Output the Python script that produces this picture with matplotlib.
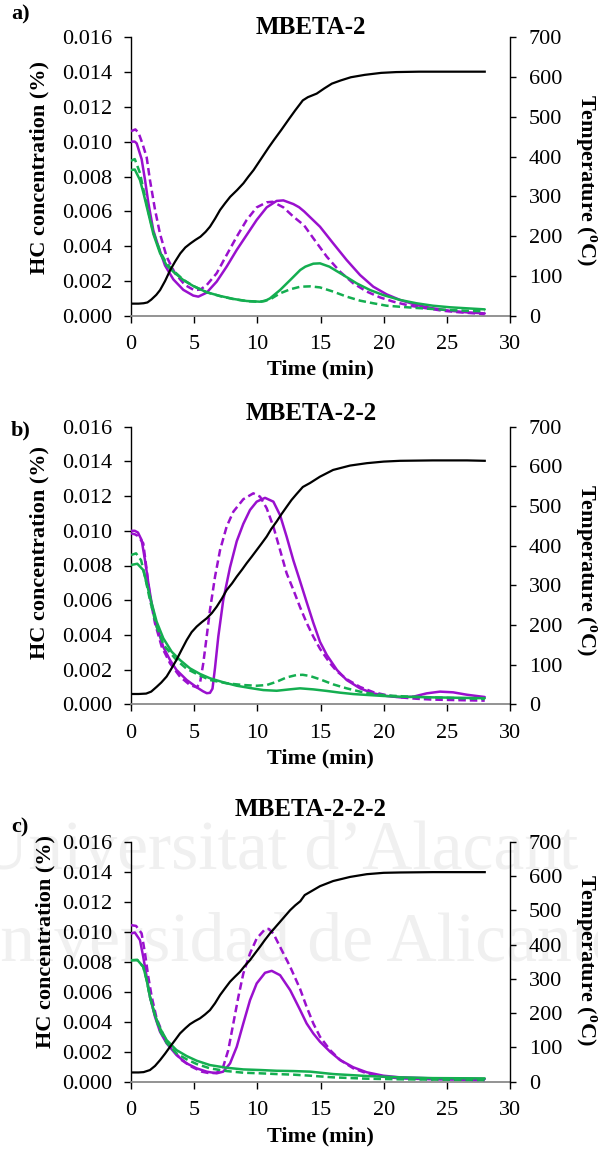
import matplotlib
matplotlib.use("Agg")
import matplotlib.pyplot as plt
from matplotlib.ticker import FormatStrFormatter

plt.rcParams['font.family'] = ['Liberation Serif', 'DejaVu Serif']
plt.rcParams['mathtext.fontset'] = 'custom'
plt.rcParams['mathtext.rm'] = 'Liberation Serif'
plt.rcParams['mathtext.bf'] = 'Liberation Serif:bold'

# ---------------- data: panel a (MBETA-2) ----------------
a_t_temp = [0, 0.6, 1.0, 1.3, 1.6, 2.0, 2.3, 2.7, 3.1, 3.5, 3.9, 4.3, 4.7, 5.1, 5.5,
            5.9, 6.25, 6.65, 7.05, 7.45, 7.85, 8.4, 8.9, 9.3, 9.7, 10.1, 10.5, 10.9,
            11.3, 11.6, 11.9, 12.5, 13.0, 13.6, 14.0, 14.7, 15.3, 15.9, 16.6, 17.4,
            18.5, 19.8, 21.0, 22.8, 25.0, 28.0]
a_temp = [31, 31, 32, 34, 41, 53, 65, 88, 115, 137, 157, 172, 182, 191, 199, 211, 224,
          244, 266, 283, 299, 316, 333, 350, 366, 385, 404, 423, 441, 454, 467, 494,
          516, 541, 549, 558, 571, 583, 591, 599, 605, 610, 612, 613, 613, 613]

a_t_ps = [0, 0.3, 0.45, 0.84, 1.11, 1.37, 1.77, 2.16, 2.69, 3.35, 4.14, 4.93, 5.33,
          5.99, 6.78, 7.57, 8.37, 9.16, 9.95, 10.74, 11.53, 12.06, 12.85, 13.3, 13.7,
          14.96, 16.0, 17.07, 18.13, 19.18, 20.24, 21.3, 22.6, 23.9, 25.25, 26.6, 28.0]
a_ps = [0.0100, 0.0100, 0.0099, 0.0090, 0.0078, 0.0065, 0.0049, 0.0040, 0.0029, 0.0021,
        0.0015, 0.00117, 0.00111, 0.00134, 0.00197, 0.00283, 0.00379, 0.00465, 0.00551,
        0.00623, 0.0066, 0.00663, 0.00642, 0.00624, 0.0060, 0.00512, 0.00417, 0.00321,
        0.00235, 0.00168, 0.00124, 0.00092, 0.00063, 0.00044, 0.0003, 0.00021, 0.00015]

a_t_pd = [0, 0.35, 0.6, 0.9, 1.24, 1.5, 1.9, 2.3, 2.82, 3.48, 4.27, 5.0, 5.5, 6.0, 6.78,
          7.57, 8.37, 9.16, 9.95, 10.74, 11.2, 12.06, 12.85, 13.7, 14.43, 15.5, 16.55,
          17.6, 18.66, 19.7, 20.77, 22.08, 23.4, 24.7, 26.04, 28.0]
a_pd = [0.0106, 0.0107, 0.0105, 0.0099, 0.0091, 0.0078, 0.0061, 0.0047, 0.0034, 0.00245,
        0.00178, 0.00148, 0.00152, 0.00178, 0.00245, 0.0035, 0.00455, 0.00551, 0.00623,
        0.00652, 0.00655, 0.00623, 0.0057, 0.0052, 0.00446, 0.0034, 0.00254, 0.00187,
        0.0014, 0.00107, 0.00082, 0.00059, 0.00044, 0.0003, 0.00021, 0.00011]

a_t_gs = [0, 0.3, 0.71, 0.97, 1.37, 1.77, 2.3, 2.82, 3.35, 4.14, 4.93, 6.0, 7.05, 8.1,
          9.16, 10.21, 10.6, 11.0, 11.8, 12.6, 13.4, 13.8, 14.43, 14.96, 15.7, 16.8,
          17.87, 18.92, 19.97, 21.3, 22.6, 23.9, 25.25, 26.6, 28.0]
a_gs = [0.00837, 0.0084, 0.0078, 0.0071, 0.0059, 0.0047, 0.0036, 0.0029, 0.00254,
        0.00206, 0.00172, 0.00136, 0.00115, 0.00098, 0.00086, 0.00082, 0.00086, 0.00101,
        0.00149, 0.00206, 0.00264, 0.00283, 0.0030, 0.00302, 0.00283, 0.00235, 0.00187,
        0.00149, 0.0012, 0.00092, 0.00073, 0.00059, 0.0005, 0.00044, 0.00038]

a_t_gd = [0, 0.3, 0.71, 0.97, 1.37, 1.77, 2.3, 2.82, 3.35, 4.14, 4.93, 6.0, 7.05, 8.1,
          9.16, 10.21, 11.0, 11.8, 12.6, 13.4, 14.17, 14.96, 16.0, 17.07, 18.13, 19.18,
          20.24, 21.3, 22.6, 23.9, 25.25, 26.6, 28.0]
a_gd = [0.0089, 0.0090, 0.0082, 0.0073, 0.0060, 0.0048, 0.0037, 0.0030, 0.0026, 0.00208,
        0.00172, 0.00136, 0.00114, 0.00097, 0.00085, 0.00081, 0.00095, 0.0013, 0.00153,
        0.00168, 0.0017, 0.00164, 0.0014, 0.00111, 0.00088, 0.00073, 0.00059, 0.00053,
        0.00046, 0.0004, 0.00034, 0.0003, 0.00027]

# ---------------- data: panel b (MBETA-2-2) ----------------
b_t_temp = [0, 0.6, 1.2, 1.6, 2.03, 2.4, 2.82, 3.2, 3.6, 4.0, 4.41, 4.8, 5.2, 5.6, 6.0,
            6.4, 6.78, 7.2, 7.57, 8.0, 8.37, 8.8, 9.16, 9.55, 9.95, 10.35, 10.74, 11.1,
            11.53, 11.9, 12.32, 12.7, 13.1, 13.6, 14.17, 14.96, 16.0, 17.34, 18.66, 20.0,
            21.3, 23.9, 26.6, 28.0]
b_temp = [26, 26, 27, 32, 44, 55, 70, 90, 112, 137, 162, 182, 196, 207, 217, 230, 246,
          267, 288, 305, 322, 340, 356, 372, 389, 406, 423, 442, 461, 479, 498, 515, 530,
          548, 558, 574, 591, 602, 608, 612, 614, 615, 615, 614]

b_t_ps = [0, 0.3, 0.55, 0.84, 1.11, 1.37, 1.64, 2.03, 2.56, 3.09, 3.6, 4.41, 5.2, 5.7,
          6.0, 6.25, 6.45, 6.65, 6.91, 7.3, 7.84, 8.37, 8.89, 9.42, 9.95, 10.61, 11.27,
          11.8, 12.32, 12.85, 13.38, 13.9, 14.43, 14.96, 15.5, 16.3, 17.07, 18.13, 19.18,
          20.24, 21.3, 22.35, 23.4, 24.46, 25.5, 26.6, 28.0]
b_ps = [0.0100, 0.0100, 0.0099, 0.00947, 0.0083, 0.0070, 0.0058, 0.0045, 0.0033, 0.00255,
        0.00198, 0.0014, 0.00098, 0.00075, 0.00064, 0.00066, 0.0009, 0.0021, 0.0039,
        0.0060, 0.0079, 0.0094, 0.0104, 0.0112, 0.01168, 0.0119, 0.01168, 0.0109, 0.00966,
        0.0083, 0.0071, 0.0059, 0.0047, 0.0036, 0.00284, 0.00198, 0.0014, 0.00092,
        0.00063, 0.00048, 0.0004, 0.00044, 0.00063, 0.00073, 0.00069, 0.00055, 0.00042]

b_t_pd = [0, 0.3, 0.55, 0.97, 1.24, 1.5, 1.9, 2.43, 3.09, 3.88, 4.67, 5.2, 5.46, 5.72,
          5.99, 6.25, 6.65, 7.05, 7.57, 8.1, 8.89, 9.68, 10.21, 10.74, 11.27, 11.8, 12.32,
          12.85, 13.38, 13.9, 14.43, 14.96, 15.76, 16.3, 17.07, 18.13, 19.18, 20.24, 21.3,
          22.6, 23.9, 25.25, 26.6, 28.0]
b_pd = [0.00985, 0.0098, 0.0097, 0.00928, 0.00774, 0.0062, 0.00467, 0.00332, 0.00236,
        0.00159, 0.00111, 0.00098, 0.00121, 0.00236, 0.0039, 0.00543, 0.00735, 0.00889,
        0.01024, 0.0111, 0.01182, 0.01216, 0.01197, 0.0113, 0.01024, 0.00889, 0.00755,
        0.0066, 0.0056, 0.0047, 0.0039, 0.0032, 0.00236, 0.0019, 0.00145, 0.001, 0.0007,
        0.00052, 0.0004, 0.00032, 0.00027, 0.00025, 0.00023, 0.00021]

b_t_gs = [0, 0.5, 0.97, 1.24, 1.64, 2.03, 2.56, 3.22, 3.88, 4.67, 5.46, 6.25, 7.3, 8.37,
          9.42, 10.47, 11.53, 12.55, 13.38, 14.43, 15.5, 16.55, 17.6, 18.66, 19.97, 21.3,
          23.9, 28.0]
b_gs = [0.00803, 0.0081, 0.00774, 0.00697, 0.00582, 0.00476, 0.0038, 0.00303, 0.00255,
        0.00207, 0.00175, 0.0015, 0.00127, 0.00107, 0.00094, 0.00082, 0.00078, 0.00086,
        0.00092, 0.00086, 0.00077, 0.00067, 0.00059, 0.00054, 0.00048, 0.00044, 0.0004,
        0.00035]

b_t_gd = [0, 0.4, 0.8, 1.11, 1.5, 2.03, 2.6, 3.6, 4.4, 5.2, 6.25, 7.57, 8.89, 9.95, 10.74,
          11.53, 12.32, 13.11, 13.6, 14.17, 14.96, 16.0, 17.07, 18.13, 19.18, 20.5, 22.08,
          23.9, 26.0, 28.0]
b_gd = [0.0086, 0.0087, 0.0083, 0.00735, 0.00601, 0.00447, 0.0034, 0.00255, 0.00205,
        0.00175, 0.0014, 0.00121, 0.00111, 0.00107, 0.00111, 0.0013, 0.00155, 0.00169,
        0.0017, 0.00163, 0.00144, 0.00115, 0.00092, 0.00073, 0.00059, 0.0005, 0.00044,
        0.0004, 0.00035, 0.00031]

# ---------------- data: panel c (MBETA-2-2-2) ----------------
c_t_temp = [0, 0.6, 1.0, 1.5, 1.9, 2.3, 2.7, 3.09, 3.5, 3.88, 4.3, 4.67, 5.06, 5.46, 5.85,
            6.25, 6.65, 7.05, 7.45, 7.84, 8.24, 8.63, 9.0, 9.42, 9.8, 10.21, 10.6, 11.0,
            11.4, 11.8, 12.2, 12.6, 13.0, 13.4, 13.75, 14.17, 14.96, 16.0, 17.34, 18.66,
            20.0, 21.3, 23.9, 28.0]
c_temp = [27, 27, 28, 34, 46, 63, 82, 102, 122, 141, 156, 168, 177, 185, 196, 209, 229,
          253, 273, 292, 307, 321, 338, 355, 374, 394, 414, 433, 450, 467, 484, 501, 515,
          527, 545, 554, 571, 586, 598, 606, 610, 611, 612, 612]

c_t_ps = [0, 0.3, 0.71, 0.97, 1.24, 1.5, 1.9, 2.3, 2.82, 3.6, 4.41, 5.2, 6.0, 6.78, 7.3,
          7.84, 8.37, 8.89, 9.42, 9.95, 10.61, 11.14, 11.8, 12.6, 13.38, 13.9, 14.43,
          14.96, 15.76, 16.55, 17.6, 18.66, 19.97, 21.3, 23.9, 28.0]
c_ps = [0.00989, 0.00996, 0.00945, 0.00833, 0.0070, 0.00567, 0.00433, 0.00333, 0.00256,
        0.00178, 0.00122, 0.00089, 0.00067, 0.00056, 0.00067, 0.00122, 0.00233, 0.00389,
        0.00544, 0.00656, 0.00727, 0.0074, 0.00711, 0.00611, 0.0048, 0.00389, 0.00322,
        0.00267, 0.002, 0.00145, 0.00096, 0.00063, 0.0004, 0.00029, 0.00022, 0.00018]

c_t_pd = [0, 0.4, 0.84, 1.11, 1.37, 1.64, 2.03, 2.56, 3.22, 4.01, 4.8, 5.6, 6.25, 6.78,
          7.3, 7.7, 8.1, 8.5, 8.89, 9.42, 9.95, 10.61, 10.9, 11.27, 11.8, 12.6, 13.38,
          13.9, 14.43, 14.96, 15.76, 16.55, 17.6, 18.66, 19.97, 21.3, 23.9, 28.0]
c_pd = [0.01045, 0.0104, 0.0099, 0.00856, 0.0070, 0.00567, 0.00422, 0.00311, 0.00222,
        0.00144, 0.001, 0.00067, 0.00056, 0.0006, 0.001, 0.00211, 0.00389, 0.00567,
        0.00722, 0.00856, 0.00956, 0.01018, 0.0102, 0.00989, 0.009, 0.00767, 0.0062,
        0.005, 0.00389, 0.003, 0.00211, 0.00145, 0.00089, 0.00056, 0.00033, 0.00022,
        0.00016, 0.00011]

c_t_gs = [0, 0.5, 0.97, 1.24, 1.5, 1.9, 2.3, 2.82, 3.6, 4.41, 5.2, 6.25, 7.57, 8.89,
          10.21, 11.53, 12.85, 14.2, 16.0, 18.66, 21.3, 23.9, 28.0]
c_gs = [0.00811, 0.00813, 0.00767, 0.00678, 0.00567, 0.00444, 0.00356, 0.00278, 0.00211,
        0.00171, 0.0014, 0.00111, 0.00093, 0.00082, 0.00078, 0.00073, 0.00071, 0.00067,
        0.00051, 0.00038, 0.00029, 0.00024, 0.00022]

c_t_gd = [0, 0.5, 0.97, 1.24, 1.5, 1.9, 2.3, 2.82, 3.6, 4.41, 5.2, 6.25, 7.57, 8.89,
          10.21, 11.53, 12.85, 14.2, 16.0, 18.66, 21.3, 28.0]
c_gd = [0.0081, 0.00812, 0.00767, 0.00678, 0.00567, 0.0044, 0.0034, 0.0026, 0.00189,
        0.00149, 0.00118, 0.00089, 0.00071, 0.0006, 0.00056, 0.00051, 0.00047, 0.0004,
        0.00029, 0.0002, 0.00016, 0.00011]

titles = ["MBETA-2", "MBETA-2-2", "MBETA-2-2-2"]
tags = ["a)", "b)", "c)"]
conc_ticks = [0.000, 0.002, 0.004, 0.006, 0.008, 0.010, 0.012, 0.014, 0.016]
temp_ticks = [0, 100, 200, 300, 400, 500, 600, 700]
time_ticks = [0, 5, 10, 15, 20, 25, 30]

PURPLE = '#9A10CE'
GREEN = '#14AE50'
W, H = 598, 1151
fig = plt.figure(figsize=(W / 100, H / 100), dpi=100)


def fx(px):
    return px / W


def fy(py):
    return 1 - py / H


# faint background lettering behind the lowest panel
for txt, x0, yb in [("Universitat d\u2019Alacant", -22, 869),
                    ("Universidad de Alicante", -50, 961)]:
    fig.text(fx(x0), fy(yb), txt, fontsize=50, color='#f0f0f0', ha='left',
             va='baseline', zorder=-5)

# panel geometry in pixels: left, top, right, bottom and text anchors
panels = [
    dict(box=(131, 37, 510, 316), title_y=27, tag_y=14, ylab_x=39, ylab_y=167,
         rlab_y=180, xlab_y=369),
    dict(box=(131, 426.7, 510, 704.3), title_y=413, tag_y=430, ylab_x=39, ylab_y=552,
         rlab_y=570, xlab_y=758),
    dict(box=(131, 842, 510, 1081.7), title_y=809, tag_y=827, ylab_x=45, ylab_y=942,
         rlab_y=960, xlab_y=1136),
]

data = [
    (a_t_temp, a_temp, [(a_t_ps, a_ps, PURPLE, '-'), (a_t_pd, a_pd, PURPLE, '--'),
                        (a_t_gs, a_gs, GREEN, '-'), (a_t_gd, a_gd, GREEN, '--')]),
    (b_t_temp, b_temp, [(b_t_ps, b_ps, PURPLE, '-'), (b_t_pd, b_pd, PURPLE, '--'),
                        (b_t_gs, b_gs, GREEN, '-'), (b_t_gd, b_gd, GREEN, '--')]),
    (c_t_temp, c_temp, [(c_t_ps, c_ps, PURPLE, '-'), (c_t_pd, c_pd, PURPLE, '--'),
                        (c_t_gs, c_gs, GREEN, '-'), (c_t_gd, c_gd, GREEN, '--')]),
]

TICK_FS = 16
LAB_FS = 16
LW = 1.8
DASH = (0, (3.0, 1.6))

for geo, (t_temp, temp, series), title, tag in zip(panels, data, titles, tags):
    l, t, r, b = geo['box']
    ax = fig.add_axes([fx(l), fy(b), fx(r) - fx(l), (b - t) / H])
    ax.patch.set_facecolor('none')
    ax2 = ax.twinx()

    for ts, vs, col, ls in series:
        ax.plot(ts, vs, color=col, lw=LW, linestyle=DASH if ls == '--' else '-',
                solid_capstyle='round', solid_joinstyle='round', zorder=3)
    ax2.plot(t_temp, temp, color='black', lw=1.6, solid_joinstyle='round', zorder=3)

    ax.set_xlim(0, 30)
    ax.set_ylim(0, 0.016)
    ax2.set_ylim(0, 700)
    ax.set_xticks(time_ticks)
    ax.set_yticks(conc_ticks)
    ax2.set_yticks(temp_ticks)
    ax.yaxis.set_major_formatter(FormatStrFormatter('%.3f'))

    for a in (ax, ax2):
        a.spines['top'].set_visible(False)
    ax.spines['left'].set_color('black')
    ax.spines['left'].set_linewidth(1.0)
    ax.spines['right'].set_visible(False)
    ax.spines['bottom'].set_color('#8a8a8a')
    ax.spines['bottom'].set_linewidth(1.3)
    ax2.spines['left'].set_visible(False)
    ax2.spines['bottom'].set_visible(False)
    ax2.spines['right'].set_color('black')
    ax2.spines['right'].set_linewidth(1.0)

    ax.tick_params(axis='y', direction='out', length=5, width=1.0, pad=8.5,
                   labelsize=TICK_FS, colors='black')
    ax.tick_params(axis='x', direction='out', length=5, width=1.0, pad=9,
                   labelsize=TICK_FS, colors='black')
    ax2.tick_params(axis='y', direction='out', length=4, width=1.0, pad=9.5,
                    labelsize=TICK_FS, colors='black')

    fig.text(fx(311), fy(geo['title_y']), title, fontsize=18, fontweight='bold',
             ha='center', va='center')
    fig.text(fx(11), fy(geo['tag_y']), tag, fontsize=16, fontweight='bold',
             ha='left', va='center')
    fig.text(fx(geo['ylab_x']), fy(geo['ylab_y']), "HC concentration (%)",
             fontsize=LAB_FS, fontweight='bold', rotation=90, ha='center', va='center')
    fig.text(fx(585), fy(geo['rlab_y']), r"Temperature ($^{\mathbf{o}}$C)",
             fontsize=LAB_FS, fontweight='bold', rotation=270, ha='center',
             va='center')
    fig.text(fx(320.5), fy(geo['xlab_y']), "Time (min)", fontsize=LAB_FS,
             fontweight='bold', ha='center', va='center')

fig.savefig("out.png", dpi=100)
